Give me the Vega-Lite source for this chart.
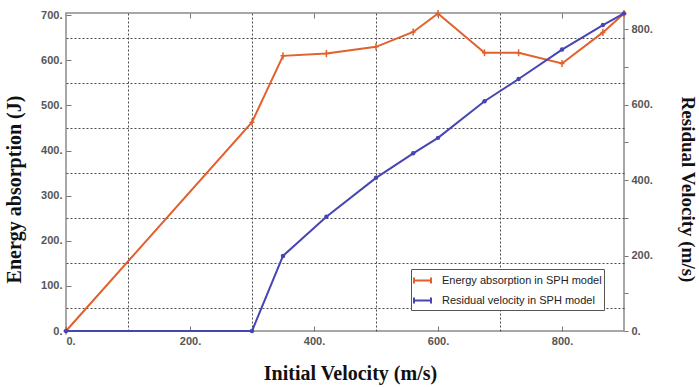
{
  "$schema": "https://vega.github.io/schema/vega-lite/v6.json",
  "width": 558,
  "height": 318,
  "autosize": {"type": "none"},
  "padding": {"left": 66, "top": 13, "right": 75, "bottom": 56},
  "background": "white",
  "config": {
    "view": {"stroke": "#8a8a8a", "strokeWidth": 1.5},
    "font": "Liberation Sans",
    "axis": {
      "domain": false,
      "grid": false,
      "labelFont": "Liberation Sans",
      "labelFontSize": 11,
      "labelFontWeight": "bold",
      "labelColor": "#555",
      "tickColor": "#777",
      "titleFont": "Liberation Serif",
      "titleFontSize": 20,
      "titleFontWeight": "bold",
      "titleColor": "#111"
    },
    "legend": {
      "orient": "none",
      "legendX": 345,
      "legendY": 256,
      "strokeColor": "#555",
      "fillColor": "white",
      "padding": 2,
      "symbolType": "M-1,-0.35L-1,0.35M-1,0L1,0M1,-0.35L1,0.35",
      "symbolSize": 289,
      "symbolStrokeWidth": 2,
      "labelFont": "Liberation Sans",
      "labelFontSize": 11,
      "labelColor": "#222",
      "rowPadding": 3,
      "labelOffset": 10,
      "labelLimit": 300
    }
  },
  "datasets": {
    "energy": [
      {"velocity": 0, "value": 0, "series": "Energy absorption in SPH model"},
      {"velocity": 300, "value": 463, "series": "Energy absorption in SPH model"},
      {"velocity": 350, "value": 610, "series": "Energy absorption in SPH model"},
      {"velocity": 420, "value": 615, "series": "Energy absorption in SPH model"},
      {"velocity": 500, "value": 630, "series": "Energy absorption in SPH model"},
      {"velocity": 560, "value": 663, "series": "Energy absorption in SPH model"},
      {"velocity": 600, "value": 704, "series": "Energy absorption in SPH model"},
      {"velocity": 675, "value": 617, "series": "Energy absorption in SPH model"},
      {"velocity": 730, "value": 617, "series": "Energy absorption in SPH model"},
      {"velocity": 800, "value": 593, "series": "Energy absorption in SPH model"},
      {"velocity": 866, "value": 662, "series": "Energy absorption in SPH model"},
      {"velocity": 900, "value": 704, "series": "Energy absorption in SPH model"}
    ],
    "residual": [
      {"velocity": 0, "value": 0, "series": "Residual velocity in SPH model"},
      {"velocity": 300, "value": 0, "series": "Residual velocity in SPH model"},
      {"velocity": 350, "value": 199, "series": "Residual velocity in SPH model"},
      {"velocity": 420, "value": 303, "series": "Residual velocity in SPH model"},
      {"velocity": 500, "value": 406, "series": "Residual velocity in SPH model"},
      {"velocity": 560, "value": 471, "series": "Residual velocity in SPH model"},
      {"velocity": 600, "value": 512, "series": "Residual velocity in SPH model"},
      {"velocity": 675, "value": 609, "series": "Residual velocity in SPH model"},
      {"velocity": 730, "value": 668, "series": "Residual velocity in SPH model"},
      {"velocity": 800, "value": 746, "series": "Residual velocity in SPH model"},
      {"velocity": 866, "value": 811, "series": "Residual velocity in SPH model"},
      {"velocity": 900, "value": 842, "series": "Residual velocity in SPH model"}
    ]
  },
  "resolve": {
    "scale": {"y": "independent"},
    "axis": {"x": "independent", "y": "independent"}
  },
  "layer": [
    {
      "data": {"name": "energy"},
      "mark": {"type": "line", "strokeOpacity": 0},
      "encoding": {
        "x": {
          "field": "velocity", "type": "quantitative",
          "scale": {"domain": [0, 900], "nice": false, "zero": false},
          "axis": {"orient": "bottom", "values": [100, 300, 500, 700], "grid": true, "gridDash": [2, 2], "gridColor": "#4a4a4a", "gridWidth": 1, "labels": false, "ticks": false, "title": null}
        },
        "y": {
          "field": "value", "type": "quantitative",
          "scale": {"domain": [0, 705], "nice": false},
          "axis": {"orient": "left", "values": [50, 150, 250, 350, 450, 550, 650], "grid": true, "gridDash": [2, 2], "gridColor": "#4a4a4a", "gridWidth": 1, "labels": false, "ticks": false, "title": null}
        }
      }
    },
    {
      "data": {"name": "energy"},
      "mark": {"type": "line", "strokeWidth": 2},
      "encoding": {
        "x": {
          "field": "velocity", "type": "quantitative",
          "scale": {"domain": [0, 900], "nice": false, "zero": false},
          "axis": {"orient": "bottom", "values": [0, 200, 400, 600, 800], "labelExpr": "datum.value + '.'", "tickSize": -5, "labelPadding": 9, "title": "Initial Velocity (m/s)", "titlePadding": 17, "titleX": 284}
        },
        "y": {
          "field": "value", "type": "quantitative",
          "scale": {"domain": [0, 705], "nice": false},
          "axis": {"orient": "left", "values": [0, 100, 200, 300, 400, 500, 600, 700], "labelExpr": "datum.value + '.'", "tickSize": -5, "labelPadding": 9, "title": "Energy absorption (J)", "titlePadding": 16, "titleY": 176}
        },
        "color": {
          "field": "series", "type": "nominal",
          "scale": {"domain": ["Energy absorption in SPH model", "Residual velocity in SPH model"], "range": ["#e2602c", "#4646b2"]},
          "legend": {"title": null}
        }
      }
    },
    {
      "data": {"name": "energy"},
      "mark": {"type": "point", "shape": "M0,-1L0,1M-0.7,0L0.7,0", "filled": false, "size": 50, "strokeWidth": 1.5, "color": "#e2602c", "opacity": 1},
      "encoding": {
        "x": {"field": "velocity", "type": "quantitative", "scale": {"domain": [0, 900], "nice": false, "zero": false}, "axis": null},
        "y": {"field": "value", "type": "quantitative", "scale": {"domain": [0, 705], "nice": false}, "axis": null}
      }
    },
    {
      "data": {"name": "residual"},
      "mark": {"type": "line", "strokeWidth": 2},
      "encoding": {
        "x": {
          "field": "velocity", "type": "quantitative",
          "scale": {"domain": [0, 900], "nice": false, "zero": false},
          "axis": {"orient": "top", "values": [200, 400, 600, 800], "labels": false, "tickSize": -5, "title": null}
        },
        "y": {
          "field": "value", "type": "quantitative",
          "scale": {"domain": [0, 843], "nice": false},
          "axis": {"orient": "right", "values": [0, 100, 200, 300, 400, 500, 600, 700, 800], "labelExpr": "datum.value % 200 == 0 ? datum.value + '.' : ''", "tickSize": 4, "labelPadding": 3, "title": "Residual Velocity (m/s)", "titleFontSize": 19, "titlePadding": 25, "titleY": 176}
        },
        "color": {
          "field": "series", "type": "nominal",
          "scale": {"domain": ["Energy absorption in SPH model", "Residual velocity in SPH model"], "range": ["#e2602c", "#4646b2"]},
          "legend": {"title": null}
        }
      }
    },
    {
      "data": {"name": "residual"},
      "mark": {"type": "point", "filled": true, "size": 20, "color": "#4646b2", "opacity": 1},
      "encoding": {
        "x": {"field": "velocity", "type": "quantitative", "scale": {"domain": [0, 900], "nice": false, "zero": false}, "axis": null},
        "y": {"field": "value", "type": "quantitative", "scale": {"domain": [0, 843], "nice": false}, "axis": null}
      }
    }
  ]
}
